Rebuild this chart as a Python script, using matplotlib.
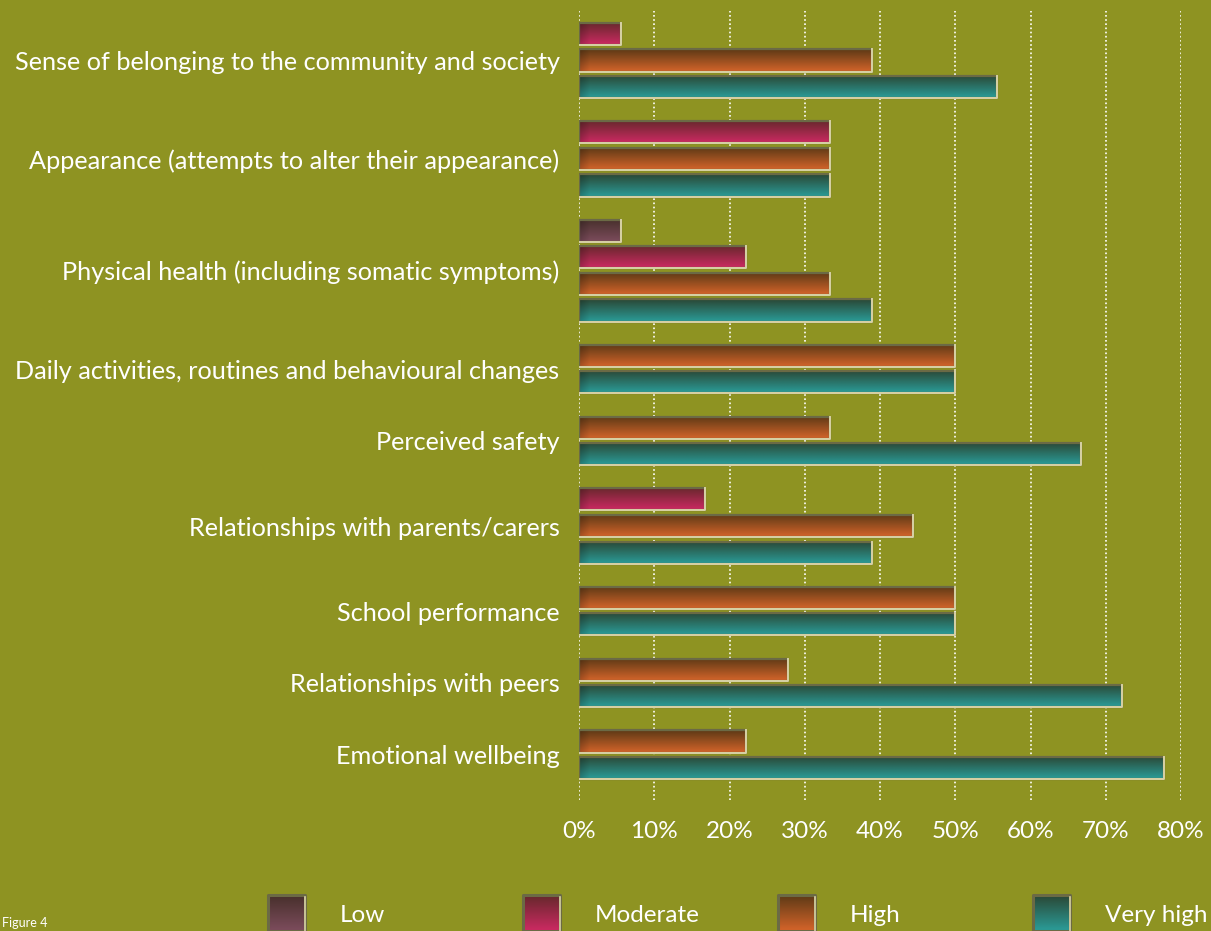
import numpy as np
import matplotlib
matplotlib.use("Agg")
import matplotlib.pyplot as plt
from matplotlib.colors import to_rgb

# data (percent of respondents), top category first
categories = [
    "Sense of belonging to the community and society",
    "Appearance (attempts to alter their appearance)",
    "Physical health (including somatic symptoms)",
    "Daily activities, routines and behavioural changes",
    "Perceived safety",
    "Relationships with parents/carers",
    "School performance",
    "Relationships with peers",
    "Emotional wellbeing",
]
series = ["Low", "Moderate", "High", "Very high"]
low = [0, 0, 5.6, 0, 0, 0, 0, 0, 0]
moderate = [5.6, 33.3, 22.2, 0, 0, 16.7, 0, 0, 0]
high = [38.9, 33.3, 33.3, 50.0, 33.3, 44.4, 50.0, 27.8, 22.2]
very_high = [55.6, 33.3, 38.9, 50.0, 66.7, 38.9, 50.0, 72.2, 77.8]
ticks = [0, 10, 20, 30, 40, 50, 60, 70, 80]

BG = "#8e9322"
# (top, bottom) gradient colours for each series
grad_cols = {
    "Low": ("#48302c", "#7c4c5c"),
    "Moderate": ("#66282c", "#cc2a62"),
    "High": ("#5e3a16", "#d4642a"),
    "Very high": ("#2a4836", "#2a9c98"),
}
FONT = ["Lato", "DejaVu Sans"]
plt.rcParams["font.family"] = FONT

values = [low, moderate, high, very_high]
step = 1.0
gap = 0.7
bar_h = 0.83


def grad_bar(ax, y, v, name):
    top, bot = [np.array(to_rgb(c)) for c in grad_cols[name]]
    rows = 30
    cols = max(int(v * 10), 2)
    t = np.linspace(0, 1, rows)[:, None, None]
    img = top * (1 - t) + bot * t
    img = np.repeat(img, cols, axis=1)
    # darker fade at the left end
    fade = np.ones(cols)
    n = min(15, cols)
    fade[:n] = np.linspace(0.8, 1.0, n)
    img = img * fade[None, :, None]
    ax.imshow(np.clip(img, 0, 1), extent=[0, v, y + bar_h / 2, y - bar_h / 2],
              aspect="auto", interpolation="bilinear", zorder=3)
    ax.plot([0, v, v, 0, 0], [y - bar_h / 2, y - bar_h / 2, y + bar_h / 2, y + bar_h / 2, y - bar_h / 2],
            color="#6b6a45", lw=1.6, zorder=4)
    ax.plot([0, v, v], [y + bar_h / 2, y + bar_h / 2, y - bar_h / 2],
            color="#d8d2a6", lw=1.4, zorder=5)


fig = plt.figure(figsize=(12.11, 9.31), dpi=100, facecolor=BG)
ax = fig.add_axes([579 / 1211, 1 - 800 / 931, (1181 - 579) / 1211, (800 - 11) / 931])
ax.set_facecolor(BG)

pos = 0.0
centers = []
for ci, cat in enumerate(categories):
    ys = []
    for si, name in enumerate(series):
        v = values[si][ci]
        if v <= 0:
            continue
        grad_bar(ax, pos, v, name)
        ys.append(pos)
        pos += step
    centers.append(np.mean(ys))
    pos += gap

last = pos - step - gap
ax.set_xlim(0, 80)
ax.set_ylim(last + 1.2, -0.86)

for t in ticks:
    ax.axvline(t, color="white", lw=1.2, ls=(0, (1, 1.5)), zorder=1)

for s in ax.spines.values():
    s.set_visible(False)
ax.set_xticks(ticks)
ax.set_xticklabels([f"{t}%" for t in ticks], color="white", fontsize=17.5)
ax.set_yticks(centers)
ax.set_yticklabels(categories, color="white", fontsize=18.2)
ax.tick_params(axis="x", length=0, pad=15)
ax.tick_params(axis="y", length=0, pad=14)

# legend along the bottom, drawn in pixel units
lax = fig.add_axes([0, 0, 1, 60 / 931])
lax.set_xlim(0, 1211)
lax.set_ylim(0, 60)
lax.axis("off")
for i, name in enumerate(series):
    x0 = 268 + i * 255
    top, bot = [np.array(to_rgb(c)) for c in grad_cols[name]]
    t = np.linspace(0, 1, 30)[:, None, None]
    img = np.repeat(top * (1 - t) + bot * t, 4, axis=1)
    lax.imshow(img, extent=[x0, x0 + 37, 0, 36], aspect="auto", zorder=3)
    lax.plot([x0, x0 + 37, x0 + 37, x0, x0], [0, 0, 36, 36, 0], color="#6b6a45", lw=2.2, zorder=4)
    lax.plot([x0 + 37, x0 + 37], [0, 34], color="#d8d2a6", lw=1.2, zorder=5)
    lax.text(x0 + 72, 16, name, color="white", fontsize=17.5, va="center", ha="left")
lax.set_xlim(0, 1211)
lax.set_ylim(0, 60)

fig.text(0.002, 2 / 931, "Figure 4", color="white", fontsize=9, va="bottom", ha="left")

fig.savefig("out.png", dpi=100, facecolor=BG)
